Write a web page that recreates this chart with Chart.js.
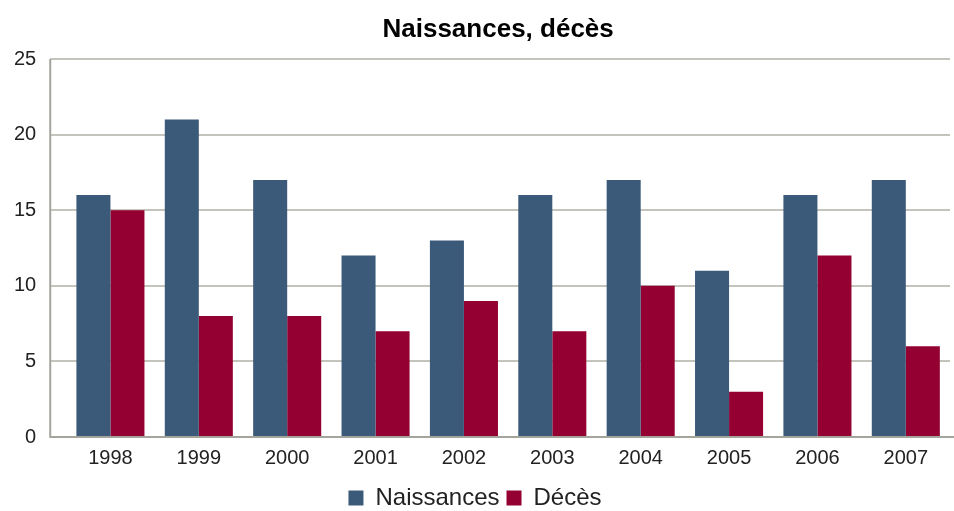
<!DOCTYPE html>
<html>
<head>
<meta charset="utf-8">
<script src="https://cdn.jsdelivr.net/npm/chart.js@4/dist/chart.umd.min.js"></script>
<style>
html,body{margin:0;padding:0;background:#fff;}
#wrap{width:954px;height:511px;}
</style>
</head>
<body>
<div id="wrap"><canvas id="c" width="954" height="511"></canvas></div>
<script>
const categories = ['1998','1999','2000','2001','2002','2003','2004','2005','2006','2007'];
const naissances = [16,21,17,12,13,16,17,11,16,17];
const deces = [15,8,8,7,9,7,10,3,12,6];
const seriesNames = ['Naissances','Décès'];
const chartTitle = 'Naissances, décès';

const EXT = 16;
const axisLinePlugin = {
  id: 'axisLine',
  afterDatasetsDraw(chart) {
    const {ctx, chartArea} = chart;
    ctx.save();
    ctx.strokeStyle = '#a4a49c';
    ctx.lineWidth = 2;
    ctx.beginPath();
    ctx.moveTo(chartArea.left - EXT, chartArea.top);
    ctx.lineTo(chartArea.left - EXT, chartArea.bottom + 1);
    ctx.stroke();
    ctx.beginPath();
    ctx.moveTo(chartArea.left - EXT, chartArea.bottom);
    ctx.lineTo(chartArea.right + 4, chartArea.bottom);
    ctx.stroke();
    ctx.restore();
  }
};
const titlePlugin = {
  id: 'plotTitle',
  afterDraw(chart) {
    const {ctx, chartArea} = chart;
    ctx.save();
    ctx.font = 'bold 26px "Liberation Sans"';
    ctx.fillStyle = '#000';
    ctx.textAlign = 'center';
    ctx.textBaseline = 'alphabetic';
    ctx.fillText(chartTitle, (chartArea.left - EXT + chartArea.right) / 2 - 2, 37);
    ctx.restore();
  }
};

new Chart(document.getElementById('c'), {
  type: 'bar',
  data: {
    labels: categories,
    datasets: [
      {label: seriesNames[0], data: naissances, backgroundColor: '#3b5a7a'},
      {label: seriesNames[1], data: deces, backgroundColor: '#930031'}
    ]
  },
  options: {
    responsive: false,
    animation: false,
    devicePixelRatio: 1,
    layout: {padding: {left: 0, right: 4, top: 59, bottom: -9}},
    datasets: {bar: {categoryPercentage: 0.77, barPercentage: 1.0}},
    plugins: {
      title: {display: false},
      legend: {
        position: 'bottom',
        labels: {
          color: '#222',
          font: {family: 'Liberation Sans', size: 24},
          boxWidth: 15,
          boxHeight: 15,
          padding: 7
        }
      },
      tooltip: {enabled: false}
    },
    scales: {
      x: {
        grid: {display: false, drawTicks: false},
        border: {display: false},
        ticks: {color: '#222', font: {family: 'Liberation Sans', size: 20, lineHeight: 0.4}, padding: 17}
      },
      y: {
        min: 0, max: 25,
        ticks: {stepSize: 5, color: '#222', font: {family: 'Liberation Sans', size: 20}, padding: 14},
        grid: {color: '#c4c4bc', lineWidth: 2, tickLength: EXT, drawTicks: true},
        border: {display: false}
      }
    }
  },
  plugins: [axisLinePlugin, titlePlugin]
});
</script>
</body>
</html>
